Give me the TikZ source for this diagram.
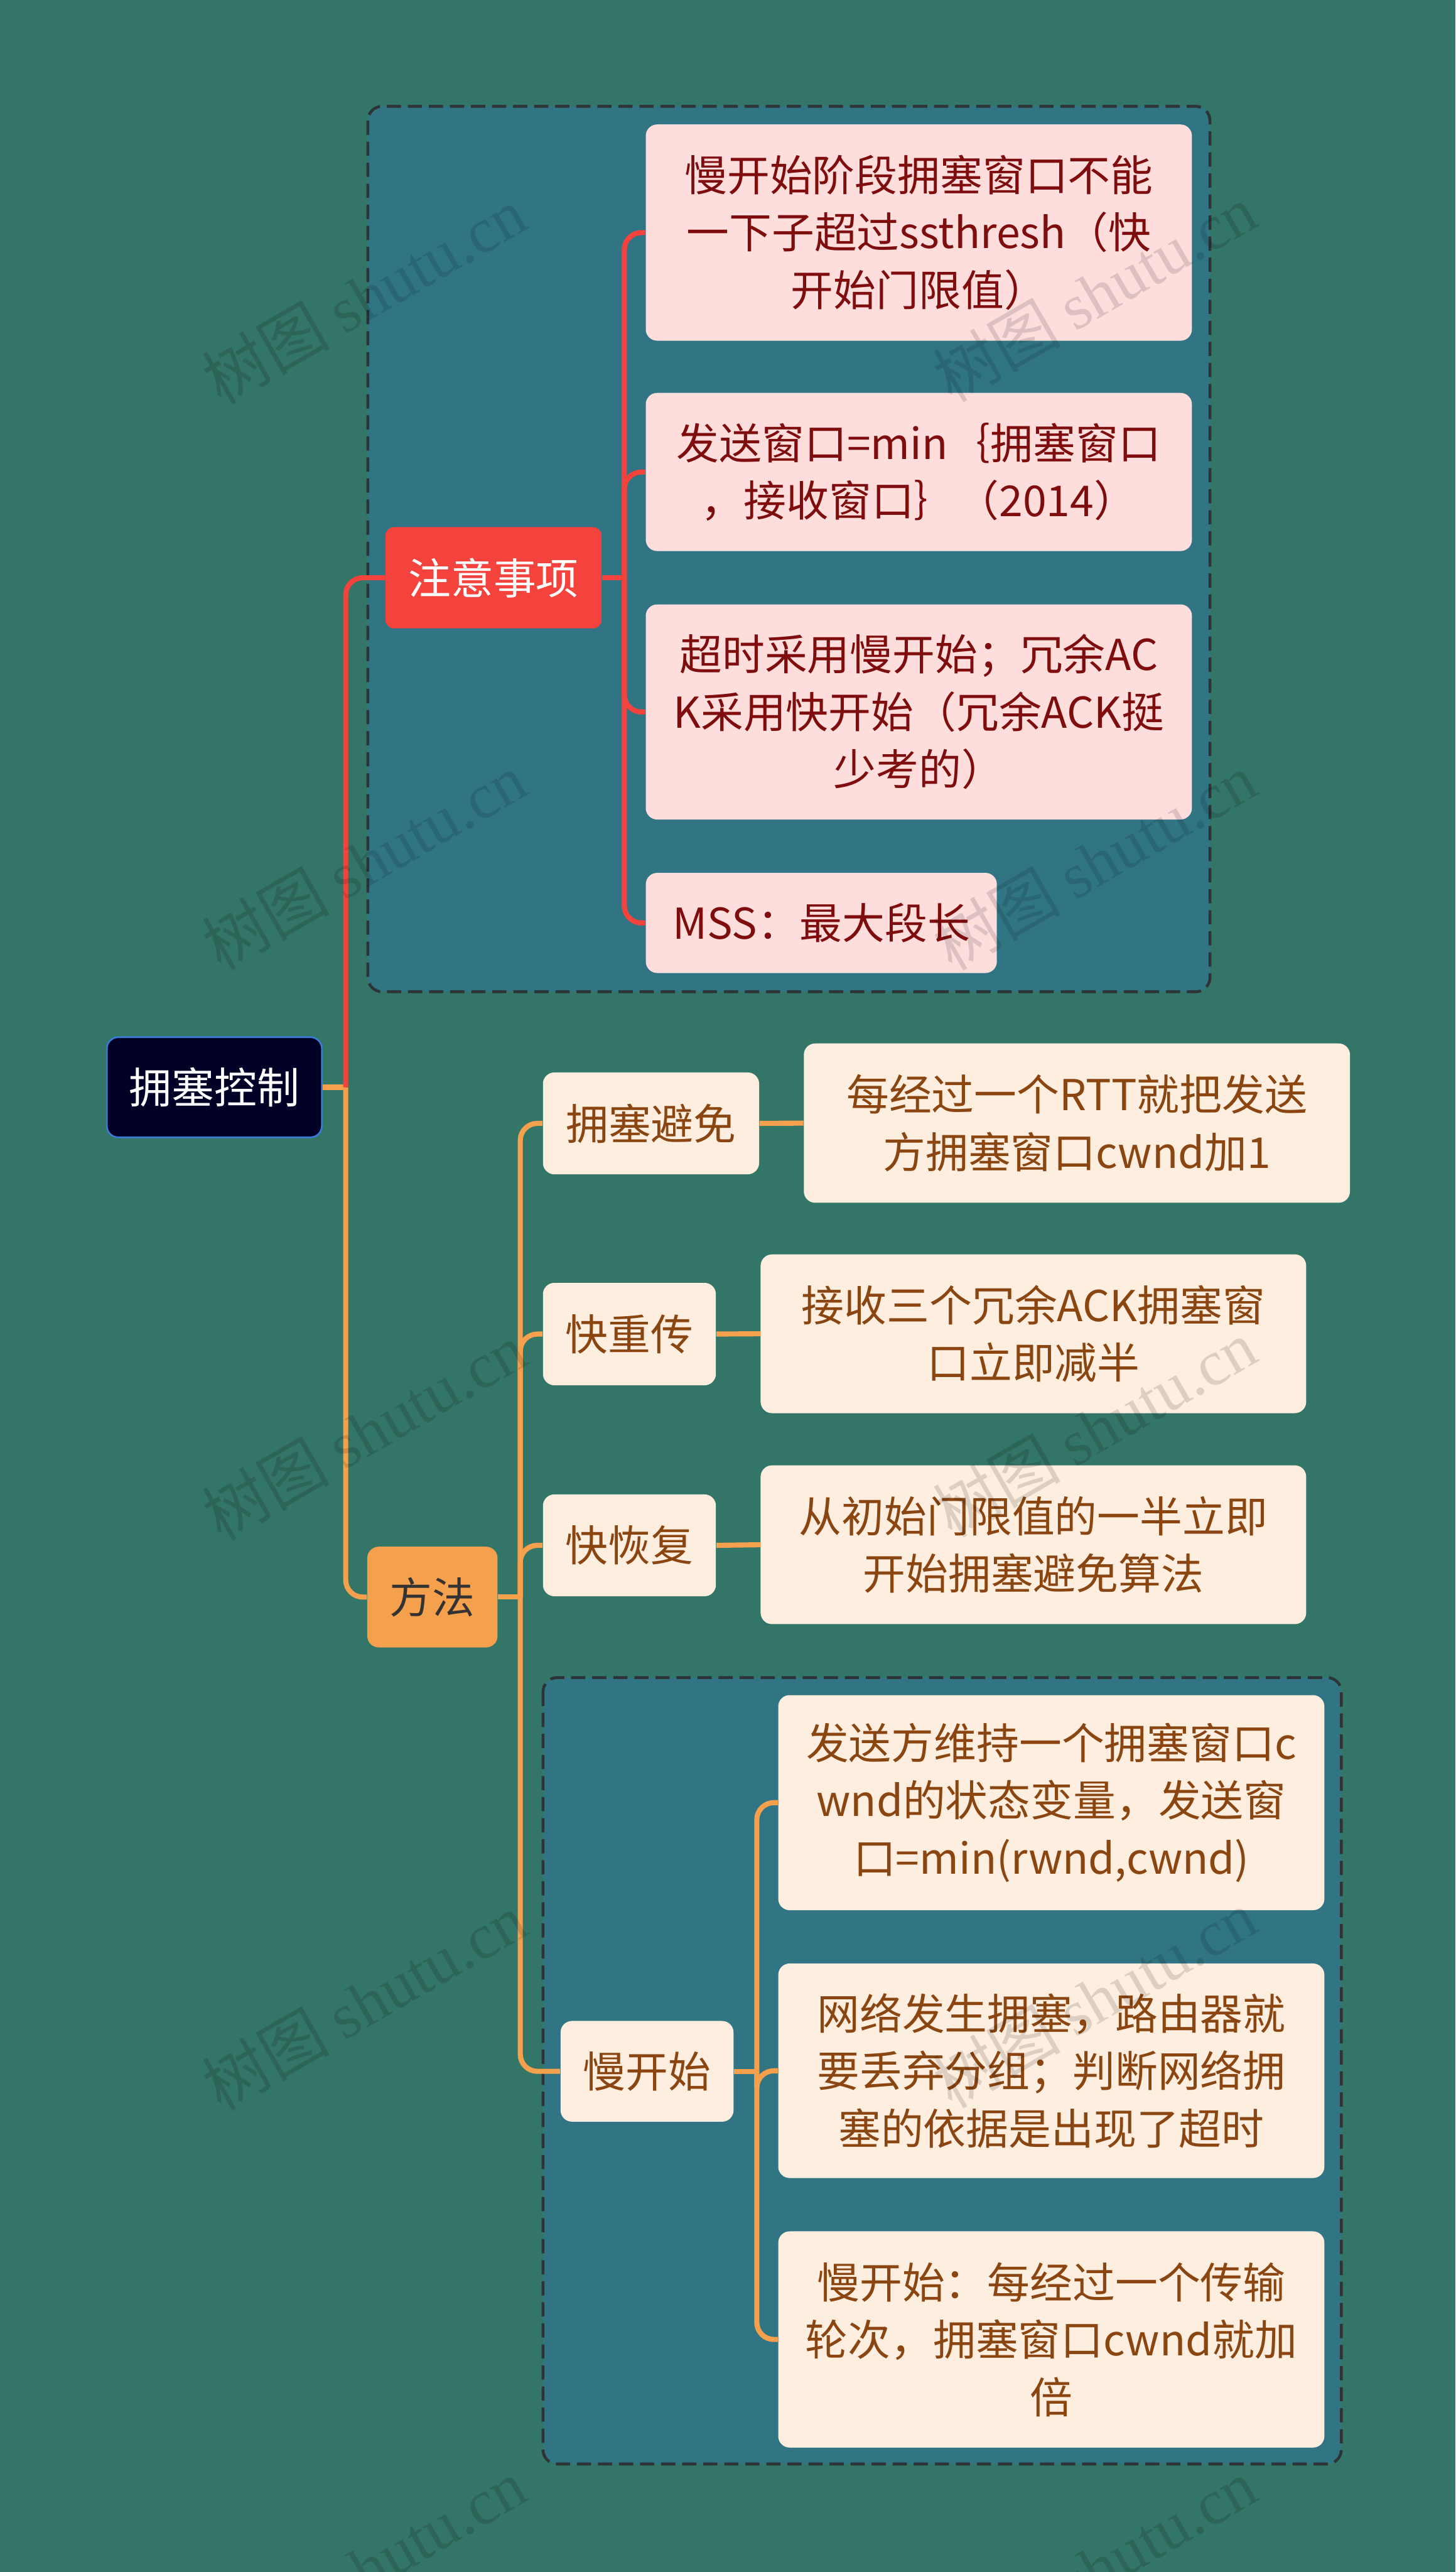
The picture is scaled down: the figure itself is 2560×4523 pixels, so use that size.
\documentclass[tikz,border=0pt]{standalone}
\usepackage{fontspec}
\setmainfont{Noto Sans CJK SC}
\newfontfamily\wmcjk{Noto Sans CJK SC}
\newfontfamily\wmlat{Liberation Serif}
\definecolor{bgc}{HTML}{337566}
\definecolor{grpc}{HTML}{317585}
\definecolor{grpline}{HTML}{2E3436}
\definecolor{rootc}{HTML}{000026}
\definecolor{rootline}{HTML}{3B7BD6}
\definecolor{redc}{HTML}{F4433C}
\definecolor{orc}{HTML}{F5A04C}
\definecolor{pinkc}{HTML}{FDDEDD}
\definecolor{pinktxt}{HTML}{7F0D0D}
\definecolor{creamc}{HTML}{FDEEDF}
\definecolor{creamtxt}{HTML}{8A4510}
\begin{document}
\begin{tikzpicture}[x=0.01cm,y=-0.01cm,
  box/.style={rectangle, rounded corners=0.2cm, align=center, inner sep=0pt,
    font=\fontsize{21.3pt}{28.7pt}\selectfont},
  pinkbox/.style={box, fill=pinkc, text=pinktxt},
  creambox/.style={box, fill=creamc, text=creamtxt},
  grp/.style={draw=grpline, fill=grpc, line width=0.05cm, dash pattern=on 0.25cm off 0.12cm, rounded corners=0.25cm},
  redline/.style={draw=redc, line width=0.09cm, rounded corners=0.3cm},
  orline/.style={draw=orc, line width=0.09cm, rounded corners=0.3cm},
  wm/.style={rotate=30, text=black, text opacity=0.13, font=\fontsize{32pt}{36pt}\selectfont}
]
\useasboundingbox (0,0) rectangle (2560,4523);
\clip (0,0) rectangle (2560,4523);
\fill[bgc] (0,0) rectangle (2560,4523);

% groups
\draw[grp] (647,187) rectangle (2128,1744);
\draw[grp] (955,2950) rectangle (2359,4333);

% nodes
\node[box, fill=rootc, draw=rootline, line width=0.03cm, text=white, minimum width=3.78cm, minimum height=1.76cm] (root) at (377,1912) {拥塞控制};
\node[box, fill=redc, text=white, rounded corners=0.15cm, minimum width=3.80cm, minimum height=1.78cm] (zy) at (868,1016) {注意事项};
\node[pinkbox, minimum width=9.60cm, minimum height=3.80cm] (n1) at (1616,409) {慢开始阶段拥塞窗口不能\\一下子超过ssthresh（快\\开始门限值）};
\node[pinkbox, minimum width=9.60cm, minimum height=2.78cm] (n2) at (1616,830) {发送窗口=min｛拥塞窗口\\，接收窗口｝（2014）};
\node[pinkbox, minimum width=9.60cm, minimum height=3.78cm] (n3) at (1616,1252) {超时采用慢开始；冗余AC\\K采用快开始（冗余ACK挺\\少考的）};
\node[pinkbox, minimum width=6.17cm, minimum height=1.76cm] (n4) at (1444.5,1623) {MSS：最大段长};

\node[box, fill=orc, text=black!80, minimum width=2.29cm, minimum height=1.77cm] (ff) at (760.5,2808.5) {方法};
\node[creambox, minimum width=3.80cm, minimum height=1.79cm] (m1) at (1145,1975.5) {拥塞避免};
\node[creambox, minimum width=9.60cm, minimum height=2.80cm] (m1c) at (1894,1975) {每经过一个RTT就把发送\\方拥塞窗口cwnd加1};
\node[creambox, minimum width=3.04cm, minimum height=1.80cm] (m2) at (1107,2346) {快重传};
\node[creambox, minimum width=9.59cm, minimum height=2.79cm] (m2c) at (1817.5,2345.5) {接收三个冗余ACK拥塞窗\\口立即减半};
\node[creambox, minimum width=3.04cm, minimum height=1.79cm] (m3) at (1107,2717.5) {快恢复};
\node[creambox, minimum width=9.59cm, minimum height=2.79cm] (m3c) at (1817.5,2716.5) {从初始门限值的一半立即\\开始拥塞避免算法};
\node[creambox, minimum width=3.04cm, minimum height=1.77cm] (m4) at (1138,3642.5) {慢开始};
\node[creambox, minimum width=9.60cm, minimum height=3.78cm] (s1) at (1849,3170) {发送方维持一个拥塞窗口c\\wnd的状态变量，发送窗\\口=min(rwnd,cwnd)};
\node[creambox, minimum width=9.60cm, minimum height=3.77cm] (s2) at (1849,3641.5) {网络发生拥塞，路由器就\\要丢弃分组；判断网络拥\\塞的依据是出现了超时};
\node[creambox, minimum width=9.60cm, minimum height=3.80cm] (s3) at (1849,4114) {慢开始：每经过一个传输\\轮次，拥塞窗口cwnd就加\\倍};

% junction coordinates
\coordinate (trunk) at (608,1912);
\coordinate (zyj) at (1098,1016);
\coordinate (ffj) at (915,2808.5);
\coordinate (m4j) at (1331,3642.5);

% connectors
\draw[orline] (root.east) -- (trunk);
\draw[orline] (trunk) |- (ff.west);
\draw[redline] (trunk) |- (zy.west);
\draw[redline] (zy.east) -- (zyj);
\foreach \n in {n1,n2,n3,n4} \draw[redline] (zyj) |- (\n.west);
\draw[orline] (ff.east) -- (ffj);
\foreach \n in {m1,m2,m3,m4} \draw[orline] (ffj) |- (\n.west);
\draw[orline] (m1.east) -- (m1c.west);
\draw[orline] (m2.east) -- (m2c.west);
\draw[orline] (m3.east) -- (m3c.west);
\draw[orline] (m4.east) -- (m4j);
\foreach \n in {s1,s2,s3} \draw[orline] (m4j) |- (\n.west);

% watermarks
\foreach \i/\px/\py in {1/640/520, 2/1925/515, 3/640/1515, 4/1925/1515, 5/640/2517, 6/1925/2512, 7/640/3520, 8/1925/3515, 9/640/4515, 10/1925/4515}
  \node[wm] (wm\i) at (\px,\py) {{\wmcjk 树图} {\wmlat shutu.cn}};
\end{tikzpicture}
\end{document}
